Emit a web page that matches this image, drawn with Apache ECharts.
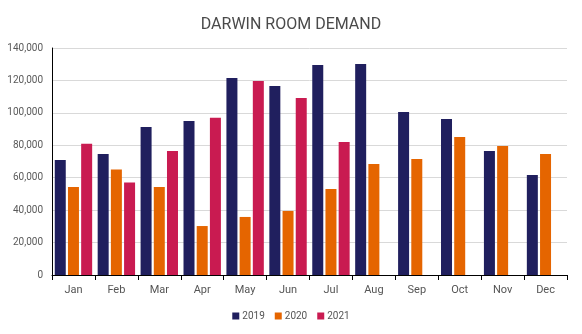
<!DOCTYPE html>
<html>
<head>
<meta charset="utf-8">
<script src="https://cdn.jsdelivr.net/npm/echarts@6/dist/echarts.min.js"></script>
<style>
  html, body { margin: 0; padding: 0; background: #ffffff; }
  #chart { width: 582px; height: 334px; }
</style>
</head>
<body>
<div id="chart"></div>
<script>
// Monthly room demand in Darwin, by year
const months = ['Jan', 'Feb', 'Mar', 'Apr', 'May', 'Jun', 'Jul', 'Aug', 'Sep', 'Oct', 'Nov', 'Dec'];
const demand2019 = [71000, 74600, 91300, 95000, 121500, 116600, 129500, 130100, 100500, 96200, 76500, 61700];
const demand2020 = [54300, 65000, 54300, 30200, 35800, 39500, 53000, 68500, 71500, 85100, 79600, 74600];
const demand2021 = [81000, 57000, 76500, 97000, 119600, 109200, 82000, null, null, null, null, null];
const yTicks = { min: 0, max: 140000, step: 20000 };

const font = 'Roboto, "Noto Sans", sans-serif';

const chart = echarts.init(document.getElementById('chart'), null, { renderer: 'canvas' });

function barSeries(name, data, color) {
  return {
    name: name,
    type: 'bar',
    data: data,
    barWidth: 11,
    barGap: '20%',
    itemStyle: { color: color },
    emphasis: { disabled: true }
  };
}

chart.setOption({
  animation: false,
  title: {
    text: 'DARWIN ROOM DEMAND',
    left: 'center',
    top: 12,
    textStyle: { fontFamily: font, fontSize: 16, fontWeight: 'normal', color: '#4a4a4a' }
  },
  legend: {
    bottom: 8,
    left: 'center',
    itemWidth: 7,
    itemHeight: 7,
    itemGap: 10,
    icon: 'rect',
    textStyle: { fontFamily: font, fontSize: 10, color: '#555555', padding: [0, 0, 0, -2] },
    data: ['2019', '2020', '2021']
  },
  grid: { left: 52, right: 15, top: 48, bottom: 59, containLabel: false },
  xAxis: {
    type: 'category',
    data: months,
    axisLine: { lineStyle: { color: '#000000', width: 1 } },
    axisTick: { show: true, length: 5, lineStyle: { color: '#000000' } },
    axisLabel: { fontFamily: font, fontSize: 11, color: '#555555', margin: 10 }
  },
  yAxis: {
    type: 'value',
    min: yTicks.min,
    max: yTicks.max,
    interval: yTicks.step,
    axisLine: { show: true, lineStyle: { color: '#000000', width: 1 } },
    axisTick: { show: false },
    splitLine: { lineStyle: { color: '#d9d9d9', width: 1 } },
    axisLabel: {
      fontFamily: font, fontSize: 10, color: '#595959', margin: 9,
      formatter: v => v.toLocaleString('en-US')
    }
  },
  series: [
    barSeries('2019', demand2019, '#201f5e'),
    barSeries('2020', demand2020, '#e56500'),
    barSeries('2021', demand2021, '#c91b51')
  ]
});
</script>
</body>
</html>
